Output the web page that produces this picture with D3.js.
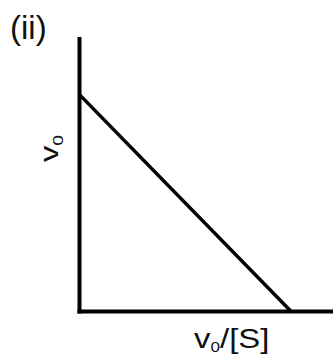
<!DOCTYPE html>
<style>
	body { margin: 0; background: #fff; }
	.axis-line, .fit { stroke: #000; fill: none; }
	text { font-family: "Liberation Sans", Arial, sans-serif; fill: #111; }
</style>
<head>
	<script src="https://d3js.org/d3.v7.min.js"></script>
</head>
<body>
	<svg width="333" height="356"></svg>
</body>
<script>
// Eadie-Hofstee plot: v0 against v0/[S], arbitrary units
var xValues = [0, 0.835];   // v0/[S]
var yValues = [0.79, 0];    // v0
var panelLabel = "(ii)";

var svg = d3.select("svg"),
	width = +svg.attr("width"),
	height = +svg.attr("height");

var x = d3.scaleLinear().domain([0, 1]).range([79.5, 333]);
var y = d3.scaleLinear().domain([0, 1]).range([311.5, 37]);

// axes: plain lines, no ticks
svg.append("line").attr("class", "axis-line")
	.attr("x1", x(0)).attr("y1", y(1))
	.attr("x2", x(0)).attr("y2", y(0) + 2)
	.attr("stroke-width", 4);
svg.append("line").attr("class", "axis-line")
	.attr("x1", x(0) - 2).attr("y1", y(0))
	.attr("x2", x(1)).attr("y2", y(0))
	.attr("stroke-width", 4);

var line = d3.line()
	.x(function(d) { return x(d[0]); })
	.y(function(d) { return y(d[1]); });

svg.append("path").attr("class", "fit")
	.datum(d3.zip(xValues, yValues))
	.attr("d", line)
	.attr("stroke-width", 3.5);

svg.append("text")
	.attr("x", 10).attr("y", 39)
	.style("font-size", "33px")
	.text(panelLabel);

// y label, rotated (glyphs a bit stretched like the original)
var yl = svg.append("text")
	.attr("transform", "translate(58,162) rotate(-90) scale(1.3,1)")
	.style("font-size", "25px");
yl.append("tspan").text("v");
yl.append("tspan").attr("dy", 5).style("font-size", "15px").text("0");

// x label
var xl = svg.append("text")
	.attr("transform", "translate(194,348) scale(1.22,1)")
	.style("font-size", "27px");
xl.append("tspan").text("v");
xl.append("tspan").attr("dy", 4).style("font-size", "14px").text("0");
xl.append("tspan").attr("dy", -4).text("/[S]");
</script>
